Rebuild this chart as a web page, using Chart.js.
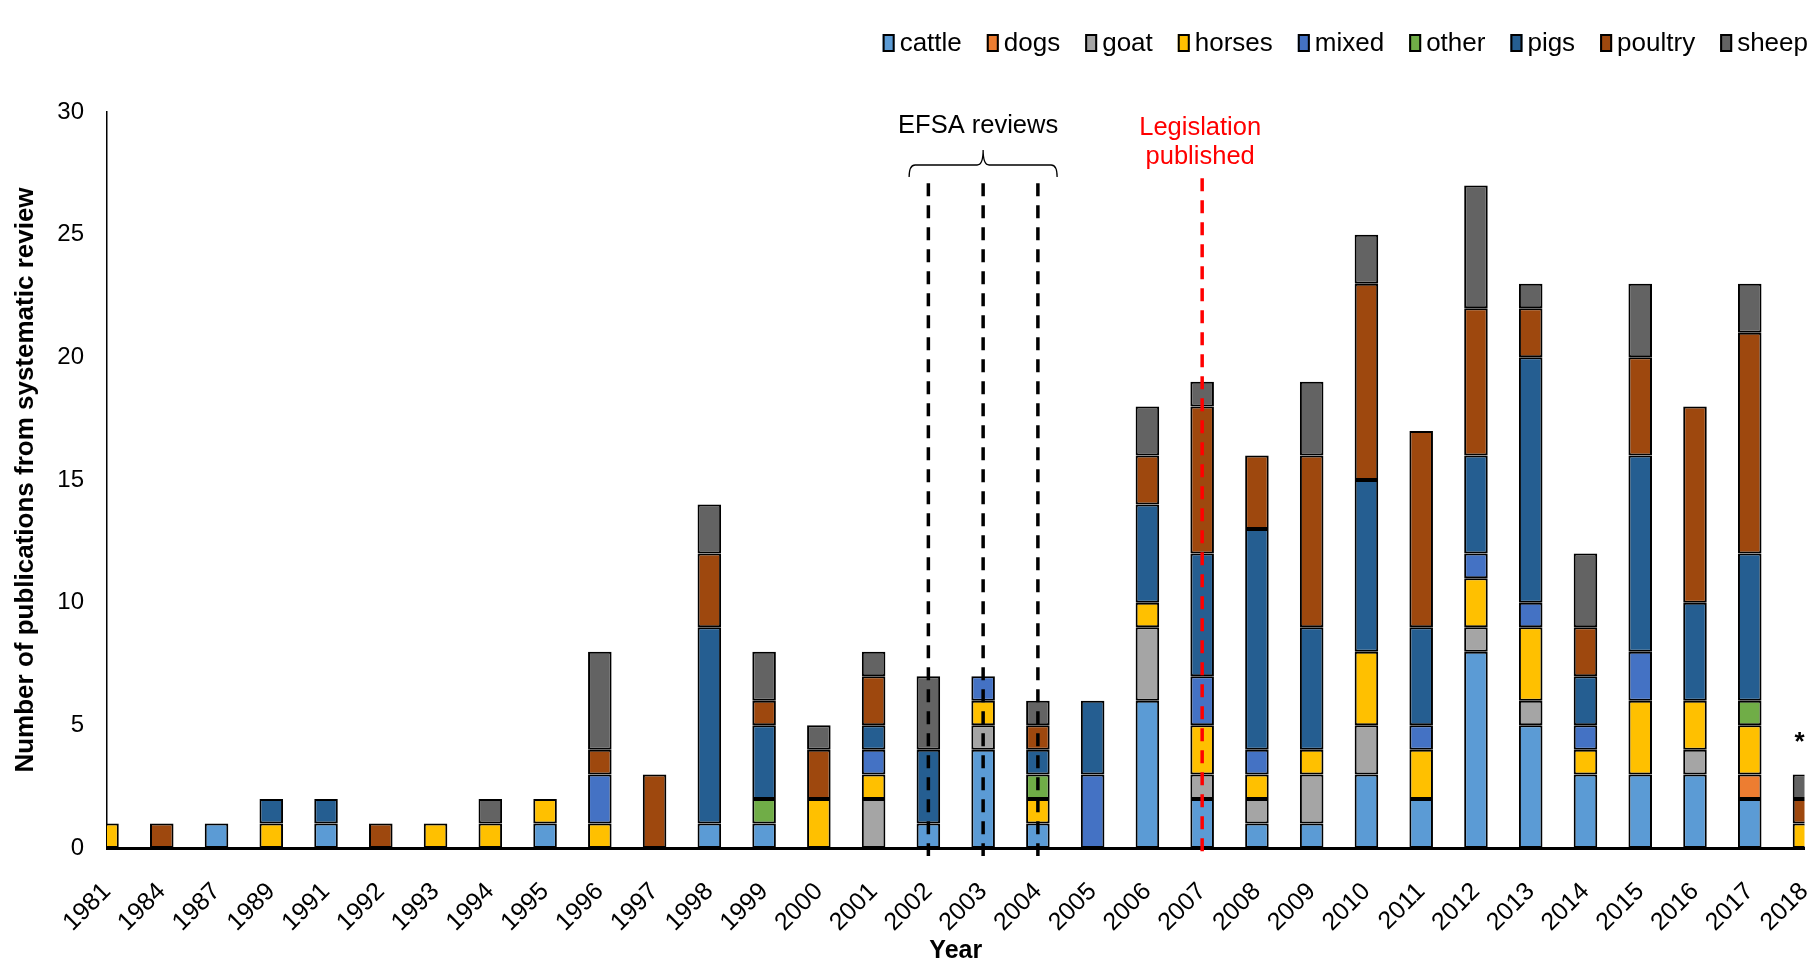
<!DOCTYPE html>
<html><head><meta charset="utf-8">
<script src="https://cdn.jsdelivr.net/npm/chart.js@4.4.0/dist/chart.umd.min.js"></script>
<style>html,body{margin:0;padding:0;background:#fff;}#wrap{width:1817px;height:962px;position:relative;}</style>
</head><body><div id="wrap"><canvas id="c"></canvas></div>
<script>
const years = ['1981','1984','1987','1989','1991','1992','1993','1994','1995','1996','1997','1998','1999','2000','2001','2002','2003','2004','2005','2006','2007','2008','2009','2010','2011','2012','2013','2014','2015','2016','2017','2018'];
const cattle  = [0,0,1,0,1,0,0,0,1,0,0,1,1,0,0,1,4,1,0,6,2,1,1,3,2,8,5,3,3,3,2,0];
const dogs    = [0,0,0,0,0,0,0,0,0,0,0,0,0,0,0,0,0,0,0,0,0,0,0,0,0,0,0,0,0,0,1,0];
const goat    = [0,0,0,0,0,0,0,0,0,0,0,0,0,0,2,0,1,0,0,3,1,1,2,2,0,1,1,0,0,1,0,0];
const horses  = [1,0,0,1,0,0,1,1,1,1,0,0,0,2,1,0,1,1,0,1,2,1,1,3,2,2,3,1,3,2,2,1];
const mixed   = [0,0,0,0,0,0,0,0,0,2,0,0,0,0,1,0,1,0,3,0,2,1,0,0,1,1,1,1,2,0,0,0];
const other   = [0,0,0,0,0,0,0,0,0,0,0,0,1,0,0,0,0,1,0,0,0,0,0,0,0,0,0,0,0,0,1,0];
const pigs    = [0,0,0,1,1,0,0,0,0,0,0,8,3,0,1,3,0,1,3,4,5,9,5,7,4,4,10,2,8,4,6,0];
const poultry = [0,1,0,0,0,1,0,0,0,1,3,3,1,2,2,0,0,1,0,2,6,3,7,8,8,6,2,2,4,8,9,1];
const sheep   = [0,0,0,0,0,0,0,1,0,4,0,2,2,1,1,3,0,1,0,2,1,0,3,2,0,5,1,3,3,0,2,1];
const yTicks = [0,5,10,15,20,25,30];
const efsaYears = ['2002','2003','2004'];
const legislationYear = '2007';
const asteriskYear = '2018';

const FONT = "'Liberation Sans', Arial, sans-serif";
const series = [
  ['cattle', cattle, '#5B9BD5'],
  ['dogs', dogs, '#ED7D31'],
  ['goat', goat, '#A5A5A5'],
  ['horses', horses, '#FFC000'],
  ['mixed', mixed, '#4472C4'],
  ['other', other, '#70AD47'],
  ['pigs', pigs, '#255E91'],
  ['poultry', poultry, '#9E480E'],
  ['sheep', sheep, '#636363']
];

const datasets = series.map(([label, data, color]) => ({
  label, data: data.map(v => (v === 0 ? null : v)), backgroundColor: color, borderColor: '#000', borderWidth: 2,
  borderSkipped: false, clip: 0, categoryPercentage: 1.0, barPercentage: 0.43
}));

const legendPlugin = {
  id: 'customLegend',
  afterDraw(chart) {
    const ctx = chart.ctx;
    ctx.save();
    ctx.font = '26px ' + FONT;
    ctx.textBaseline = 'middle';
    const boxW = 12, boxH = 18, gapT = 5, gapI = 25, yC = 43;
    const items = chart.data.datasets.map(d => ({label: d.label, color: d.backgroundColor, w: ctx.measureText(d.label).width}));
    let total = 0;
    items.forEach((it, i) => { total += boxW + gapT + it.w + (i < items.length - 1 ? gapI : 0); });
    let x = 1808 - total;
    items.forEach(it => {
      ctx.fillStyle = it.color;
      ctx.fillRect(x, yC - boxH / 2, boxW, boxH);
      ctx.lineWidth = 2; ctx.strokeStyle = '#000';
      ctx.strokeRect(x + 1, yC - boxH / 2 + 1, boxW - 2, boxH - 2);
      ctx.fillStyle = '#000';
      ctx.textAlign = 'left';
      ctx.fillText(it.label, x + boxW + gapT, yC + 1);
      x += boxW + gapT + it.w + gapI;
    });
    ctx.restore();
  }
};

const annotPlugin = {
  id: 'annot',
  afterDatasetsDraw(chart) {
    const ctx = chart.ctx, xs = chart.scales.x, ys = chart.scales.y;
    const base = ys.getPixelForValue(0);
    ctx.save();
    ctx.setLineDash([13, 9]);
    ctx.lineWidth = 3.5;
    ctx.strokeStyle = '#000';
    efsaYears.forEach(yr => {
      const x = xs.getPixelForValue(years.indexOf(yr));
      ctx.beginPath(); ctx.moveTo(x, ys.getPixelForValue(27.1)); ctx.lineTo(x, base + 8); ctx.stroke();
    });
    ctx.strokeStyle = '#FF0000';
    const xl = xs.getPixelForValue(years.indexOf(legislationYear));
    ctx.beginPath(); ctx.moveTo(xl, ys.getPixelForValue(27.3)); ctx.lineTo(xl, base + 5); ctx.stroke();
    ctx.setLineDash([]);
    // brace
    const xc = xs.getPixelForValue(years.indexOf(efsaYears[1]));
    const hw = 74;
    const yLine = ys.getPixelForValue(27.84), yEnd = ys.getPixelForValue(27.35), yNotch = ys.getPixelForValue(28.45);
    ctx.strokeStyle = '#000'; ctx.lineWidth = 1.3;
    ctx.beginPath();
    ctx.moveTo(xc - hw, yEnd);
    ctx.quadraticCurveTo(xc - hw, yLine, xc - hw + 6, yLine);
    ctx.lineTo(xc - 6, yLine);
    ctx.quadraticCurveTo(xc, yLine, xc, yNotch);
    ctx.quadraticCurveTo(xc, yLine, xc + 6, yLine);
    ctx.lineTo(xc + hw - 6, yLine);
    ctx.quadraticCurveTo(xc + hw, yLine, xc + hw, yEnd);
    ctx.stroke();
    // texts
    ctx.font = '25.5px ' + FONT;
    ctx.textAlign = 'center'; ctx.textBaseline = 'middle';
    ctx.fillStyle = '#000';
    ctx.fillText('EFSA reviews', xc - 5, ys.getPixelForValue(29.43));
    ctx.fillStyle = '#FF0000';
    ctx.fillText('Legislation', xl - 2, ys.getPixelForValue(29.35));
    ctx.fillText('published', xl - 2, ys.getPixelForValue(28.17));
    // asterisk
    ctx.fillStyle = '#000';
    ctx.font = 'bold 26px ' + FONT;
    const xa = xs.getPixelForValue(years.indexOf(asteriskYear));
    ctx.fillText('*', xa - 5, ys.getPixelForValue(4.3));
    ctx.restore();
  }
};

new Chart(document.getElementById('c'), {
  type: 'bar',
  data: { labels: years, datasets },
  options: {
    responsive: true, maintainAspectRatio: false, animation: false, devicePixelRatio: 1,
    layout: { padding: { top: 112, right: 12.5, bottom: 0, left: 0 } },
    plugins: { legend: { display: false }, tooltip: { enabled: false } },
    scales: {
      x: {
        stacked: true, offset: false,
        grid: { display: false, drawTicks: false },
        border: { display: true, color: '#000', width: 3 },
        ticks: { autoSkip: false, maxRotation: 45, minRotation: 45, padding: 29, color: '#000', font: { family: FONT, size: 25 } },
        title: { display: true, text: 'Year', color: '#000', font: { family: FONT, size: 25, weight: 'bold' }, padding: { top: 0, bottom: -4 } },
        afterFit: s => { s.height = 114; s.paddingLeft = 0; s.paddingRight = 0; }
      },
      y: {
        stacked: true, min: 0, max: 30,
        grid: { display: false, drawTicks: false },
        border: { display: true, color: '#000', width: 1.5 },
        afterBuildTicks: s => { s.ticks = yTicks.map(v => ({ value: v })); },
        ticks: { padding: 23, color: '#000', font: { family: FONT, size: 24 } },
        title: { display: true, text: 'Number of publications from systematic review', color: '#000', font: { family: FONT, size: 26, weight: 'bold' }, padding: { top: 10, bottom: 0 } },
        afterFit: s => { s.width = 107; }
      }
    }
  },
  plugins: [legendPlugin, annotPlugin]
});
</script></body></html>
